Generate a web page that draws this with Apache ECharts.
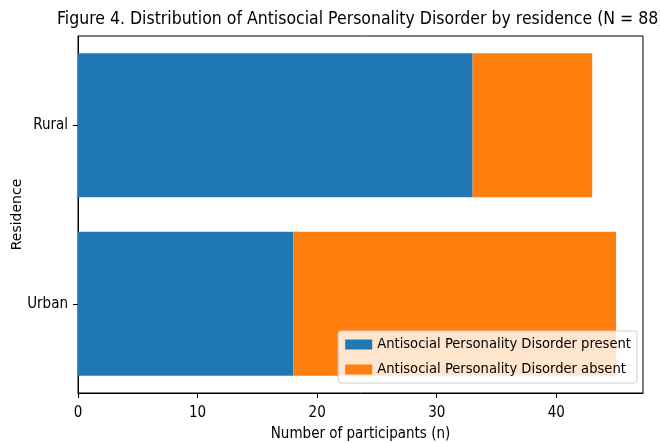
<!DOCTYPE html>
<html><head><meta charset="utf-8">
<script src="https://cdn.jsdelivr.net/npm/echarts@6/dist/echarts.min.js"></script>
<style>html,body{margin:0;padding:0;background:#fff}#c{width:660px;height:443px}</style>
</head><body><div id="c"></div>
<script>
const categories = ['Urban', 'Rural'];
const presentValues = [18, 33];
const absentValues = [27, 10];
const seriesNames = ['Antisocial Personality Disorder present', 'Antisocial Personality Disorder absent'];
const xTicks = [0, 10, 20, 30, 40];
const titleText = 'Figure 4. Distribution of Antisocial Personality Disorder by residence (N = 88)';

const FONT = '"DejaVu Sans Condensed", "DejaVu Sans", sans-serif';
const chart = echarts.init(document.getElementById('c'), null, {renderer: 'canvas'});
chart.setOption({
  animation: false,
  backgroundColor: '#fff',
  title: {
    text: titleText, left: 52, top: 5,
    textStyle: {fontFamily: FONT, fontSize: 17.5, fontWeight: 'normal', color: '#000'}
  },
  legend: {
    orient: 'vertical', right: 23, bottom: 60,
    itemWidth: 27, itemHeight: 10, itemGap: 10,
    padding: [6, 6, 6, 7],
    backgroundColor: 'rgba(255,255,255,0.8)', borderColor: '#d0d0d0', borderWidth: 1, borderRadius: 3,
    textStyle: {fontFamily: FONT, fontSize: 14.6, color: '#000'},
    icon: 'rect',
    data: seriesNames
  },
  grid: {left: 78, right: 17, top: 36, bottom: 50, show: true, borderColor: '#000', borderWidth: 1,
    containLabel: false, outerBoundsMode: 'none'},
  xAxis: {
    type: 'value', min: 0, max: 47.25,
    name: 'Number of participants (n)', nameLocation: 'middle', nameGap: 34, nameMoveOverlap: false,
    nameTextStyle: {fontFamily: FONT, fontSize: 15, color: '#000'},
    axisLine: {show: true, lineStyle: {color: '#000'}},
    axisTick: {show: true, length: 5, customValues: xTicks, lineStyle: {color: '#000'}},
    splitLine: {show: false},
    axisLabel: {fontFamily: FONT, fontSize: 15, color: '#000', margin: 13, customValues: xTicks}
  },
  yAxis: {
    type: 'category', data: categories,
    name: 'Residence', nameLocation: 'middle', nameGap: 54, nameRotate: 90, nameMoveOverlap: false,
    nameTextStyle: {fontFamily: '"DejaVu Sans", sans-serif', fontSize: 14, color: '#000'},
    axisLine: {show: true, lineStyle: {color: '#000'}},
    axisTick: {show: true, alignWithLabel: true, length: 5, lineStyle: {color: '#000'}},
    axisLabel: {fontFamily: FONT, fontSize: 15, color: '#000', margin: 10}
  },
  series: [
    {name: seriesNames[0], type: 'bar', stack: 'a', data: presentValues, barWidth: 144, itemStyle: {color: '#1f77b4'}},
    {name: seriesNames[1], type: 'bar', stack: 'a', data: absentValues, barWidth: 144, itemStyle: {color: '#ff7f0e'}}
  ]
});
</script></body></html>
